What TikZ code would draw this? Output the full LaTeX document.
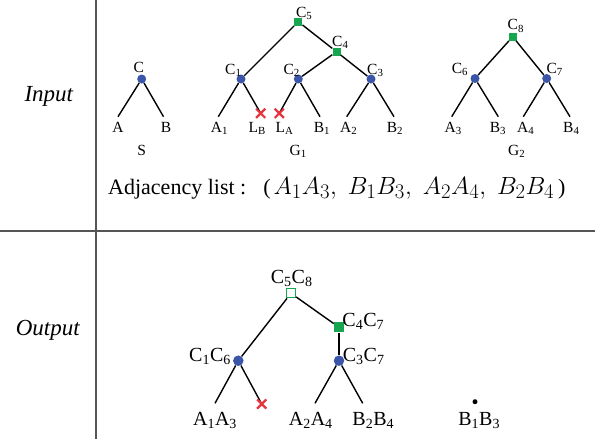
\documentclass[tikz,border=0pt]{standalone}
\usepackage[no-math]{fontspec}
\setmainfont{Liberation Serif}
\usetikzlibrary{shapes.misc}
\definecolor{nblue}{HTML}{3B55A8}
\definecolor{ngreen}{HTML}{17A550}
\definecolor{nred}{HTML}{E8343F}
\definecolor{rulegray}{HTML}{555555}
\newcommand{\Sb}[2]{#1\textsubscript{#2}}
\begin{document}
\begin{tikzpicture}[x=1pt,y=-1pt,
  bdot/.style={circle,fill=nblue,inner sep=0pt,minimum size=9pt},
  gsq/.style={rectangle,fill=ngreen,inner sep=0pt,minimum size=8pt},
  bdotL/.style={circle,fill=nblue,inner sep=0pt,minimum size=10.5pt},
  gsqL/.style={rectangle,fill=ngreen,inner sep=0pt,minimum size=10pt},
  osq/.style={rectangle,draw=ngreen,fill=white,line width=1.2pt,inner sep=0pt,minimum size=9pt},
  kdot/.style={circle,fill=black,inner sep=0pt,minimum size=5pt},
  xmark/.style={cross out,draw=nred,line width=2.2pt,inner sep=0pt,minimum size=7pt},
  edge/.style={line width=1.4pt,black},
  lbl/.style={font=\fontsize{15.5}{18}\selectfont,inner sep=0pt,anchor=base},
  olbl/.style={font=\fontsize{20}{24}\selectfont,inner sep=0pt,anchor=base},
  side/.style={font=\fontsize{23}{27}\selectfont\itshape,inner sep=0pt,anchor=base},
  divider/.style={line width=1.6pt,rulegray}]
\useasboundingbox (0,0) rectangle (595,439);
% dividers
\coordinate (vt) at (96,0); \coordinate (vb) at (96,439);
\coordinate (hl) at (0,231); \coordinate (hr) at (595,231);
\draw[divider] (vt) -- (vb);
\draw[divider] (hl) -- (hr);
\node[side] (inp) at (48.8,101.7) {Input};
\node[side] (outp) at (47.8,335) {Output};

% ---------- S ----------
\node[bdot] (c) at (141.7,79) {};
\coordinate (sa) at (118,116.7);
\coordinate (sb) at (163.5,116.7);
\draw[edge] (c) -- (sa); \draw[edge] (c) -- (sb);
\node[lbl] (lc) at (138.7,72) {C};
\node[lbl] (la) at (118,132.3) {A};
\node[lbl] (lb) at (166,132.3) {B};
\node[lbl] (ls) at (141.7,155) {S};

% ---------- G1 ----------
\node[gsq] (c5) at (298.3,21.7) {};
\node[gsq] (c4) at (336.5,51.7) {};
\node[bdot] (c1) at (241,79) {};
\node[bdot] (c2) at (298.3,79) {};
\node[bdot] (c3) at (371,79) {};
\coordinate (a1) at (218.3,116.7);
\coordinate (xb) at (260.7,113.3);
\coordinate (xa) at (279.3,113.3);
\coordinate (b1) at (320,116.7);
\coordinate (a2) at (346.7,116.7);
\coordinate (b2) at (394,116.7);
\draw[edge] (c5) -- (c1);
\draw[edge] (c5) -- (c4);
\draw[edge] (c4) -- (c2);
\draw[edge] (c4) -- (c3);
\draw[edge] (c1) -- (a1);
\draw[edge] (c1) -- (xb);
\draw[edge] (c2) -- (xa);
\draw[edge] (c2) -- (b1);
\draw[edge] (c3) -- (a2);
\draw[edge] (c3) -- (b2);
\node[xmark] (xbm) at (xb) {};
\node[xmark] (xam) at (xa) {};
\node[lbl] (lc5) at (304.2,17.5) {\Sb{C}{5}};
\node[lbl] (lc4) at (340.3,46.7) {\Sb{C}{4}};
\node[lbl] (lc1) at (233.3,74) {\Sb{C}{1}};
\node[lbl] (lc2) at (291.7,74) {\Sb{C}{2}};
\node[lbl] (lc3) at (375.3,74) {\Sb{C}{3}};
\node[lbl] (la1) at (219.5,132.3) {\Sb{A}{1}};
\node[lbl] (llb) at (257.2,132.3) {\Sb{L}{B}};
\node[lbl] (lla) at (284.5,132.3) {\Sb{L}{A}};
\node[lbl] (lb1) at (322,132.3) {\Sb{B}{1}};
\node[lbl] (la2) at (348.7,132.3) {\Sb{A}{2}};
\node[lbl] (lb2) at (395,132.3) {\Sb{B}{2}};
\node[lbl] (lg1) at (298.3,155) {\Sb{G}{1}};

% ---------- G2 ----------
\node[gsq] (c8) at (512.7,36.7) {};
\node[bdot] (c6) at (475,78.5) {};
\node[bdot] (c7) at (546.7,78.5) {};
\coordinate (a3) at (451.7,116.7);
\coordinate (b3) at (498.3,116.7);
\coordinate (a4) at (523.3,116.7);
\coordinate (b4) at (570,116.7);
\draw[edge] (c8) -- (c6);
\draw[edge] (c8) -- (c7);
\draw[edge] (c6) -- (a3);
\draw[edge] (c6) -- (b3);
\draw[edge] (c7) -- (a4);
\draw[edge] (c7) -- (b4);
\node[lbl] (lc8) at (515.8,30) {\Sb{C}{8}};
\node[lbl] (lc6) at (460,73.3) {\Sb{C}{6}};
\node[lbl] (lc7) at (554.7,73.3) {\Sb{C}{7}};
\node[lbl] (la3) at (453.3,132.3) {\Sb{A}{3}};
\node[lbl] (lb3) at (498,132.3) {\Sb{B}{3}};
\node[lbl] (la4) at (525.8,132.3) {\Sb{A}{4}};
\node[lbl] (lb4) at (571.3,132.3) {\Sb{B}{4}};
\node[lbl] (lg2) at (516.7,155) {\Sb{G}{2}};

% ---------- adjacency list ----------
\node[font=\fontsize{22}{26}\selectfont,inner sep=0pt,anchor=base west] (adj) at (108,194)
  {Adjacency list :\hspace{17pt}(\hspace{3pt}{\fontsize{27.5}{31}\selectfont$A_1A_3,\;B_1B_3,\;A_2A_4,\;B_2B_4$}\hspace{4pt})};

% ---------- Output ----------
\node[osq] (o58) at (291,293.3) {};
\node[gsqL] (o47) at (339,327.3) {};
\node[bdotL] (o37) at (339,360.7) {};
\node[bdotL] (o16) at (238.3,360.7) {};
\coordinate (a13) at (215,403.3);
\coordinate (xo) at (261.7,404);
\coordinate (a24) at (315,403.3);
\coordinate (b24) at (362.7,403.3);
\node[kdot] (b13) at (475,401.7) {};
\draw[edge] (o58) -- (o16);
\draw[edge] (o58) -- (o47);
\draw[edge] (o47) -- (o37);
\draw[edge] (o16) -- (a13);
\draw[edge] (o16) -- (xo);
\draw[edge] (o37) -- (a24);
\draw[edge] (o37) -- (b24);
\node[xmark] (xom) at (xo) {};
\node[olbl] (lo58) at (291.7,283.3) {\Sb{C}{5}\Sb{C}{8}};
\node[olbl] (lo47) at (363.3,326) {\Sb{C}{4}\Sb{C}{7}};
\node[olbl] (lo37) at (363.7,361.7) {\Sb{C}{3}\Sb{C}{7}};
\node[olbl] (lo16) at (210,361) {\Sb{C}{1}\Sb{C}{6}};
\node[olbl] (la13) at (215,425) {\Sb{A}{1}\Sb{A}{3}};
\node[olbl] (la24) at (310.8,425) {\Sb{A}{2}\Sb{A}{4}};
\node[olbl] (lb24) at (373.3,425) {\Sb{B}{2}\Sb{B}{4}};
\node[olbl] (lb13) at (479.2,425) {\Sb{B}{1}\Sb{B}{3}};
\end{tikzpicture}
\end{document}
